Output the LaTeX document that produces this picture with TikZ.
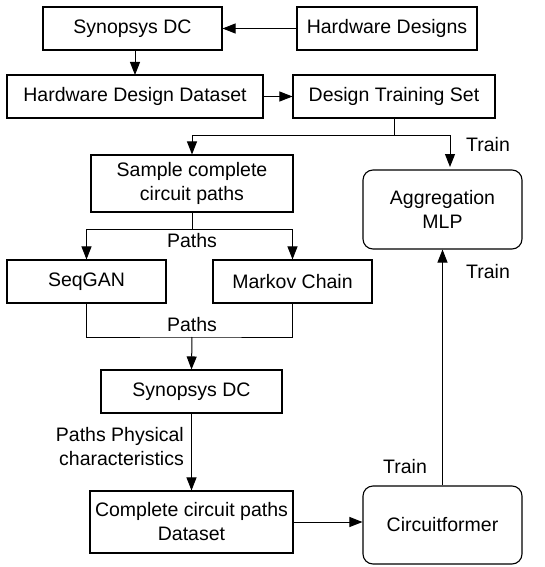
\documentclass[tikz,border=0pt]{standalone}
\usepackage{fontspec}
\setmainfont{Liberation Sans}
\usetikzlibrary{arrows.meta,calc}
\begin{document}
\begin{tikzpicture}[x=1pt,y=-1pt,
  every node/.style={font=\fontsize{19.5}{24}\selectfont, inner sep=0pt},
  box/.style={draw, line width=1.1pt, align=center},
  rbox/.style={box, rounded corners=10pt},
  lbl/.style={align=center},
  arr/.style={line width=1pt, -{Triangle[length=13pt,width=10pt]}},
  ln/.style={line width=1pt}]
\useasboundingbox (0,0) rectangle (545,567);
\node[box, minimum width=179pt, minimum height=43pt] (sdc1) at (132.5,28.5) {Synopsys DC};
\node[box, minimum width=180pt, minimum height=43pt] (hd) at (387,28.5) {Hardware Designs};
\node[box, minimum width=256pt, minimum height=43pt] (hdd) at (135,96.5) {Hardware Design Dataset};
\node[box, minimum width=202pt, minimum height=43pt] (dts) at (394,96.5) {Design Training Set};
\node[box, minimum width=202pt, minimum height=57pt] (smp) at (192,183.5) {Sample complete\\circuit paths};
\node[rbox, minimum width=159pt, minimum height=79pt] (agg) at (442.5,209.5) {Aggregation\\MLP};
\node[box, minimum width=159pt, minimum height=43pt] (seq) at (86.5,281.5) {SeqGAN};
\node[box, minimum width=159pt, minimum height=43pt] (mkv) at (292.5,281.5) {Markov Chain};
\node[box, minimum width=181pt, minimum height=43pt] (sdc2) at (191.5,391.5) {Synopsys DC};
\node[box, minimum width=203pt, minimum height=62pt] (ccpd) at (191.5,522) {Complete circuit paths\\Dataset};
\node[rbox, minimum width=159pt, minimum height=78pt] (cf) at (442.5,525) {Circuitformer};

\coordinate (j1) at (394,135);
\coordinate (j2) at (192,229);
\coordinate (j3) at (192,337);
\coordinate (aggin) at (450,170);

\draw[arr] (hd.west) -- (sdc1.east);
\draw[arr] (135,50) -- (135,75);
\draw[arr] (hdd.east) -- (dts.west);
\draw[ln] (dts.south) -- (j1);
\draw[arr] (j1) -| (smp.north);
\draw[arr, shorten >=3pt] (j1) -| (aggin);
\node[lbl] (t1) at (488,145) {Train};
\draw[ln] (smp.south) -- (j2);
\draw[arr] (j2) -| (seq.north);
\draw[arr] (j2) -| (mkv.north);
\node[lbl] (p1) at (192,241) {Paths};
\draw[ln] (seq.south) |- (j3) -| (mkv.south);
\node[lbl] (p2) at (192,325) {Paths};
\draw[arr] (j3) -- (sdc2.north);
\draw[arr] (sdc2.south) -- (ccpd.north);
\node[lbl, align=right, anchor=east] (ppc) at (184,447) {Paths Physical\\characteristics};
\draw[arr] (ccpd.east) -- (ccpd.east -| cf.west);
\draw[arr] (cf.north) -- (agg.south);
\node[lbl] (t2) at (488,272) {Train};
\node[lbl] (t3) at (405,467) {Train};
\end{tikzpicture}
\end{document}
